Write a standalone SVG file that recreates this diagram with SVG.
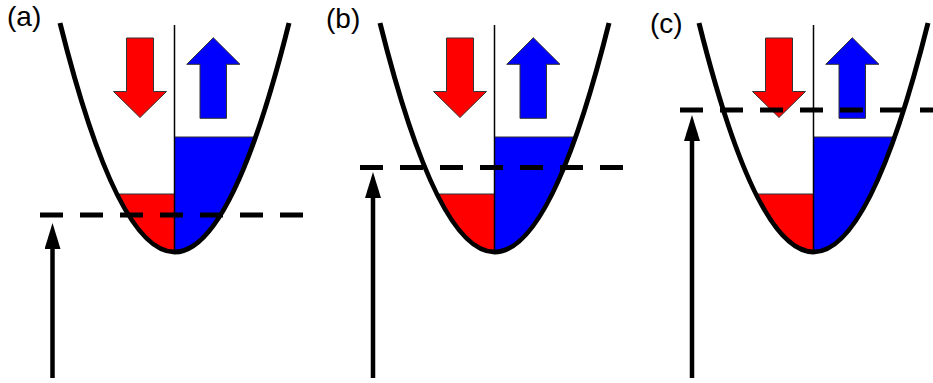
<svg xmlns="http://www.w3.org/2000/svg" xmlns:xlink="http://www.w3.org/1999/xlink" width="933" height="383" viewBox="0 0 933 383">
<style>
.lbl{font-family:"Liberation Sans",Arial,sans-serif;font-size:28px;fill:#000}
.curve{fill:none;stroke:#000;stroke-width:5}
.axis{stroke:#000;stroke-width:1.5}
.dn{fill:#ff0000;stroke:#333;stroke-width:1}
.up{fill:#0000ff;stroke:#333;stroke-width:1}
.fermi{stroke:#000;stroke-width:5;stroke-dasharray:23 17;fill:none}
.energy{stroke:#000;stroke-width:4.5;fill:none;marker-end:url(#ah)}
</style>
<defs>
<clipPath id="well">
<path d="M60,23 Q174.5,481 289,23 Z"/>
</clipPath>
<marker id="ah" markerUnits="userSpaceOnUse" viewBox="0 0 26 16" markerWidth="26" markerHeight="16" refX="6" refY="8" orient="auto">
<path d="M0,0 L26,8 L0,16 Z" fill="#000"/>
</marker>
<g id="band">
<g clip-path="url(#well)">
<rect class="dn" x="100" y="194" width="74.5" height="70"/>
<rect class="up" x="174.5" y="137" width="100" height="130"/>
</g>
<path class="axis" d="M174.5,25 V252"/>
<path class="curve" d="M60,23 Q174.5,481 289,23"/>
<polygon class="dn" points="126.5,38 153.5,38 153.5,91.5 166.5,91.5 140,117.5 113.5,91.5 126.5,91.5"/>
<polygon class="up" points="200,118.3 226.5,118.3 226.5,64.3 240,64.3 213.3,37.7 186.7,64.3 200,64.3"/>
</g>
</defs>

<g id="panel-a">
<text class="lbl" x="7" y="26">(a)</text>
<use xlink:href="#band" href="#band"/>
</g>
<g id="panel-b" transform="translate(320,0)">
<text class="lbl" x="6" y="27.5">(b)</text>
<use xlink:href="#band" href="#band"/>
</g>
<g id="panel-c" transform="translate(639,0)">
<text class="lbl" x="11" y="32.5">(c)</text>
<use xlink:href="#band" href="#band"/>
</g>

<g id="connectors">
<path class="energy" d="M52.5,378 V243"/>
<path class="fermi" d="M40,215 H303"/>
<path class="energy" d="M373,378 V192"/>
<path class="fermi" d="M360,167.5 H623"/>
<path class="energy" d="M692,378 V135"/>
<path class="fermi" d="M680,110 H943"/>
</g>
</svg>
